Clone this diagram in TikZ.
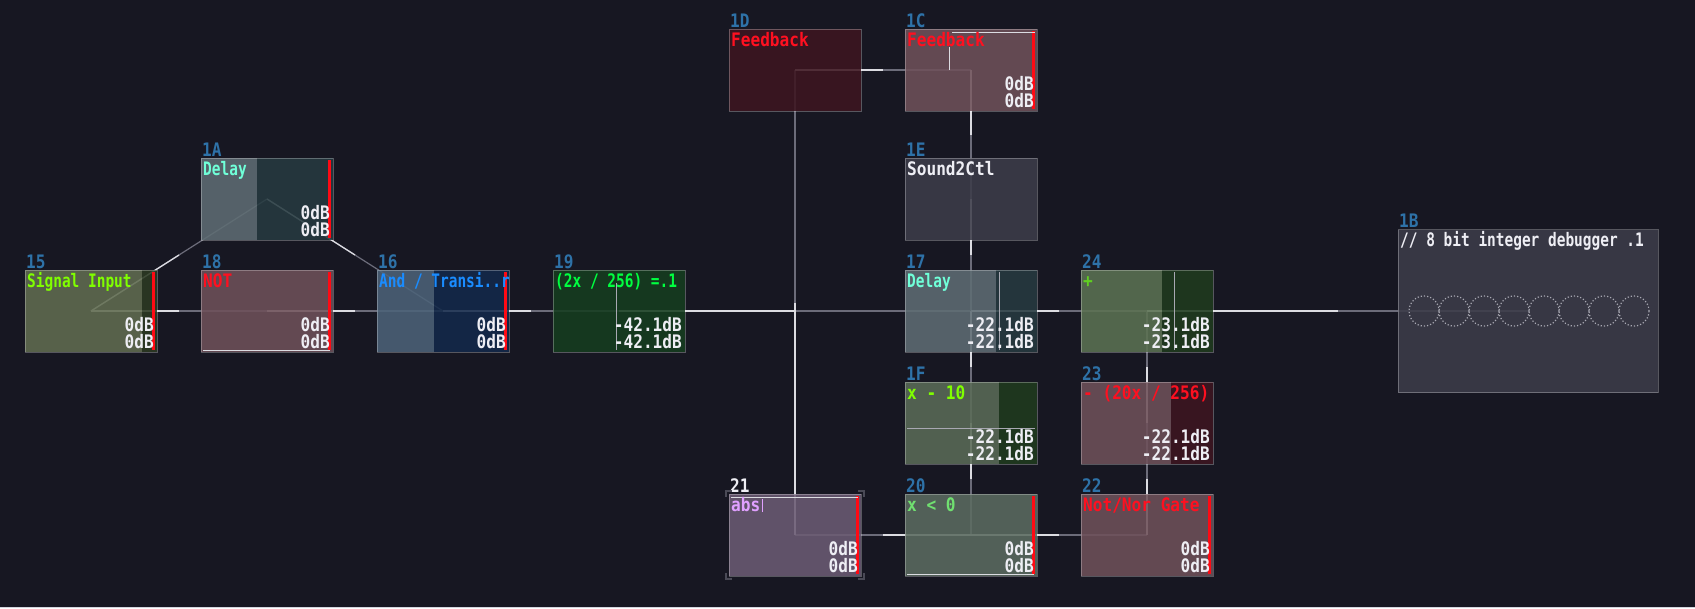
\documentclass[tikz,border=0pt]{standalone}
\usepackage{fontspec}
\usetikzlibrary{calc,positioning,backgrounds}
\newfontfamily\svfont[FakeStretch=0.777]{DejaVu Sans Mono}
\newfontfamily\svwidefont[FakeStretch=0.866]{DejaVu Sans Mono}
\newcommand{\svtext}{\svfont\bfseries\fontsize{18.6pt}{19pt}\selectfont}
\newcommand{\svwide}{\svwidefont\bfseries\fontsize{18.6pt}{19pt}\selectfont}

\definecolor{svbg}{HTML}{171722}
\definecolor{svedge}{HTML}{D4D4DE}
\definecolor{svwire}{HTML}{6C6C7A}
\definecolor{svhot}{HTML}{DCDCE2}
\definecolor{svtrace}{HTML}{A8A8B2}
\definecolor{svid}{HTML}{2E72A8}
\definecolor{svwhite}{HTML}{EEEEF4}
\definecolor{svmeter}{HTML}{FF0A14}
\definecolor{svsel}{HTML}{4A4A56}
% module bodies
\definecolor{svolive}{HTML}{606C50}
\definecolor{svoliveD}{HTML}{2C3A22}
\definecolor{svpink}{HTML}{6E5059}
\definecolor{svslate}{HTML}{5E6C73}
\definecolor{svteal}{HTML}{263A40}
\definecolor{svsteel}{HTML}{4C6278}
\definecolor{svnavy}{HTML}{13294A}
\definecolor{svforest}{HTML}{153D1F}
\definecolor{svmaroon}{HTML}{3D1520}
\definecolor{svgray}{HTML}{3C3C49}
\definecolor{svsage}{HTML}{5B7152}
\definecolor{svpine}{HTML}{1F3B1E}
\definecolor{svmoss}{HTML}{5A6B57}
\definecolor{svplum}{HTML}{6B5B73}
\definecolor{svgreengray}{HTML}{5B6B60}
% module titles
\definecolor{svlime}{HTML}{80FF00}
\definecolor{svred}{HTML}{FF1020}
\definecolor{svaqua}{HTML}{70FFD8}
\definecolor{svazure}{HTML}{1A8CFF}
\definecolor{svneon}{HTML}{00FF40}
\definecolor{svplus}{HTML}{60D020}
\definecolor{svmint}{HTML}{70E070}
\definecolor{svlilac}{HTML}{E0A0FF}

\pgfdeclarelayer{fills}
\pgfsetlayers{background,fills,main}

\begin{document}
\begin{tikzpicture}[x=1pt,y=-1pt,
    module/.style={             % Boxes denoting modules.
      rectangle,
      draw=white,
      draw opacity=0.28,
      line width=1pt,
      fill opacity=0.88,
      minimum width=132pt,
      minimum height=82pt,
      inner sep=0pt,
      outer sep=0pt
    },
    body/.style={fill opacity=0.88},
    idlbl/.style={anchor=base west, inner sep=0pt, font=\svwide, text=svid},
    modname/.style={anchor=base west, inner sep=0pt, font=\svwide},
    narrow/.style={font=\svtext},
    dblbl/.style={anchor=base east, inner sep=0pt, font=\svwide, text=svwhite},
    meter/.style={fill=svmeter},
    trace/.style={draw=svtrace, line width=1pt},
    tracehot/.style={draw=svhot, line width=1pt},
    wire/.style={draw=svwire, line width=1.2pt},
    hot/.style={draw=svhot, line width=1.3pt},
    selmark/.style={draw=svsel, line width=1.5pt},
    bit/.style={draw=svtrace, dotted, line width=1.2pt}
  ]
    \useasboundingbox (0,0) rectangle (1695,608);

    % Lay out the modules of the patch.
    \node[module] (m15) at (91,311) {};
    \node[module,fill=svpink] (m18) [right=44pt of m15] {};
    \node[module] (m1A) [above=30pt of m18] {};
    \node[module] (m16) [right=44pt of m18] {};
    \node[module,fill=svforest] (m19) [right=44pt of m16] {};
    \node[module] (m17) [right=220pt of m19] {};
    \node[module] (m24) [right=44pt of m17] {};
    \node[module,fill=svgray] (m1E) [above=30pt of m17] {};
    \node[module,fill=svpink] (m1C) [above=47pt of m1E] {};
    \node[module,fill=svmaroon] (m1D) [left=44pt of m1C] {};
    \node[module] (m1F) [below=30pt of m17] {};
    \node[module,fill=svgreengray] (m20) [below=30pt of m1F] {};
    \node[module,fill=svplum] (m21) [left=44pt of m20] {};
    \node[module,fill=svpink] (m22) [right=44pt of m20] {};
    \node[module] (m23) [above=30pt of m22] {};
    \node[module,fill=svgray,minimum width=260pt,minimum height=163pt]
      (m1B) [right=185pt of m24] {};

    % Two-tone bodies.
    \begin{pgfonlayer}{fills}
      \foreach \id/\w/\cl/\cr in {15/117/svolive/svoliveD, 1A/56/svslate/svteal,
          16/57/svsteel/svnavy, 17/91/svslate/svteal, 24/81/svsage/svpine,
          1F/94/svmoss/svpine, 23/90/svpink/svmaroon} {
        \fill[body,\cl] (m\id.north west) rectangle ([xshift=\w]m\id.south west);
        \fill[body,\cr] ([xshift=\w]m\id.north west) rectangle (m\id.south east);
      }
    \end{pgfonlayer}

    % Level meters.
    \foreach \id in {15,18,1A,16,1C,21,20,22}
      \fill[meter] ([xshift=-5pt,yshift=-2pt]m\id.north east)
        rectangle ([xshift=-2pt,yshift=2pt]m\id.south east);

    % Inner traces of the modules.
    \draw[tracehot] ([xshift=2pt,yshift=2pt]m18.south west) -- ([xshift=-3pt,yshift=2pt]m18.south east);
    \draw[tracehot] ([xshift=2pt,yshift=-3pt]m21.north west) -- ([xshift=-3pt,yshift=-3pt]m21.north east);
    \draw[tracehot] ([xshift=2pt,yshift=2pt]m20.south west) -- ([xshift=-3pt,yshift=2pt]m20.south east);
    \draw[tracehot] ([xshift=47pt,yshift=-3pt]m1C.north west) -- ([xshift=-2pt,yshift=-3pt]m1C.north east);
    \draw[tracehot] ([xshift=44pt,yshift=-18pt]m1C.north west) -- ([xshift=44pt]m1C.west);
    \draw[trace] ([xshift=2pt,yshift=-46pt]m1F.north west) -- ([xshift=-2pt,yshift=-46pt]m1F.north east);
    \draw[trace] ([xshift=63pt,yshift=-13pt]m19.north west) -- ([xshift=63pt,yshift=2pt]m19.south west);
    \draw[trace] ([xshift=94pt,yshift=-2pt]m17.north west) -- ([xshift=94pt,yshift=2pt]m17.south west);
    \draw[trace] ([xshift=93pt,yshift=-2pt]m24.north west) -- ([xshift=93pt,yshift=2pt]m24.south west);

    % Module numbers.
    \foreach \id in {15,18,1A,16,19,1D,1C,1E,17,24,1F,23,20,22,1B}
      \node[idlbl] at ([xshift=1pt,yshift=2pt]m\id.north west) {\id};
    \node[idlbl,text=svwhite] at ([xshift=1pt,yshift=2pt]m21.north west) {21};

    % Module names.
    \node[modname,narrow,text=svlime]  at ([xshift=2pt,yshift=-17pt]m15.north west) {Signal Input};
    \node[modname,text=svred]          at ([xshift=2pt,yshift=-17pt]m18.north west) {NOT};
    \node[modname,narrow,text=svaqua]  at ([xshift=2pt,yshift=-17pt]m1A.north west) {Delay};
    \node[modname,narrow,text=svazure] at ([xshift=2pt,yshift=-17pt]m16.north west) {And / Transi..r};
    \node[modname,narrow,text=svneon]  at ([xshift=2pt,yshift=-17pt]m19.north west) {(2x / 256) =.1};
    \node[modname,text=svred]          at ([xshift=2pt,yshift=-17pt]m1D.north west) {Feedback};
    \node[modname,text=svred]          at ([xshift=2pt,yshift=-17pt]m1C.north west) {Feedback};
    \node[modname,text=svwhite]        at ([xshift=2pt,yshift=-17pt]m1E.north west) {Sound2Ctl};
    \node[modname,narrow,text=svaqua]  at ([xshift=2pt,yshift=-17pt]m17.north west) {Delay};
    \node[modname,text=svplus]         at ([xshift=2pt,yshift=-17pt]m24.north west) {+};
    \node[modname,text=svlime]         at ([xshift=2pt,yshift=-17pt]m1F.north west) {x - 10};
    \node[modname,text=svred]          at ([xshift=2pt,yshift=-17pt]m23.north west) {- (20x / 256)};
    \node[modname,text=svlilac] (abs)  at ([xshift=2pt,yshift=-17pt]m21.north west) {abs};
    \node[modname,text=svmint]         at ([xshift=2pt,yshift=-17pt]m20.north west) {x < 0};
    \node[modname,text=svred]          at ([xshift=2pt,yshift=-17pt]m22.north west) {Not/Nor Gate};
    \node[modname,narrow,text=svwhite] at ([xshift=2pt,yshift=-17pt]m1B.north west) {// 8 bit integer debugger .1};
    \draw[svlilac,line width=1pt] ([xshift=2pt,yshift=-1pt]abs.base east) -- ([xshift=2pt,yshift=12pt]abs.base east);

    % Output levels.
    \foreach \id/\db in {15/0dB, 18/0dB, 1A/0dB, 16/0dB, 19/-42.1dB, 1C/0dB,
        17/-22.1dB, 24/-23.1dB, 1F/-22.1dB, 23/-22.1dB, 21/0dB, 20/0dB, 22/0dB} {
      \node[dblbl] at ([xshift=-3pt,yshift=21pt]m\id.south east) {\db};
      \node[dblbl] at ([xshift=-3pt,yshift=4pt]m\id.south east) {\db};
    }

    % Selection corners round module 21.
    \draw[selmark] ([xshift=-3pt,yshift=-3pt]m21.north west) -- ([xshift=-3pt,yshift=3pt]m21.north west)
      -- ([xshift=3pt,yshift=3pt]m21.north west);
    \draw[selmark] ([xshift=3pt,yshift=-3pt]m21.north east) -- ([xshift=3pt,yshift=3pt]m21.north east)
      -- ([xshift=-3pt,yshift=3pt]m21.north east);
    \draw[selmark] ([xshift=-3pt,yshift=3pt]m21.south west) -- ([xshift=-3pt,yshift=-3pt]m21.south west)
      -- ([xshift=3pt,yshift=-3pt]m21.south west);
    \draw[selmark] ([xshift=3pt,yshift=3pt]m21.south east) -- ([xshift=3pt,yshift=-3pt]m21.south east)
      -- ([xshift=-3pt,yshift=-3pt]m21.south east);

    % Bits of the debugger.
    \foreach \k in {0,...,7}
      \draw[bit] ($(m1B.west)+(26+30*\k,0)$) circle (15pt);

    % Links between the modules, source first.
    \begin{pgfonlayer}{background}
      \fill[svbg] (0,0) rectangle (1695,608);
      \fill[svedge] (0,606.8) rectangle (1695,608);
      \foreach \s/\t in {m15/m18, m18/m16, m16/m19, m19/m17, m17/m24, m24/m1B,
          m15/m1A, m1A/m16, m1D/m1C, m1C/m1E, m1E/m17, m17/m1F, m1F/m20,
          m23/m24, m22/m23, m20/m21, m20/m22, m21/m1D}
        \draw[wire] (\s.center) -- (\t.center);
      \foreach \s/\t in {m15/m18, m18/m16, m16/m19, m19/m17, m17/m24, m24/m1B,
          m15/m1A, m1A/m16, m1D/m1C, m1C/m1E, m1E/m17, m17/m1F, m1F/m20,
          m23/m24, m22/m23, m20/m21, m20/m22, m21/m1D}
        \draw[hot] (\s.center) -- ($(\s.center)!0.5!(\t.center)$);
    \end{pgfonlayer}
\end{tikzpicture}
\end{document}
